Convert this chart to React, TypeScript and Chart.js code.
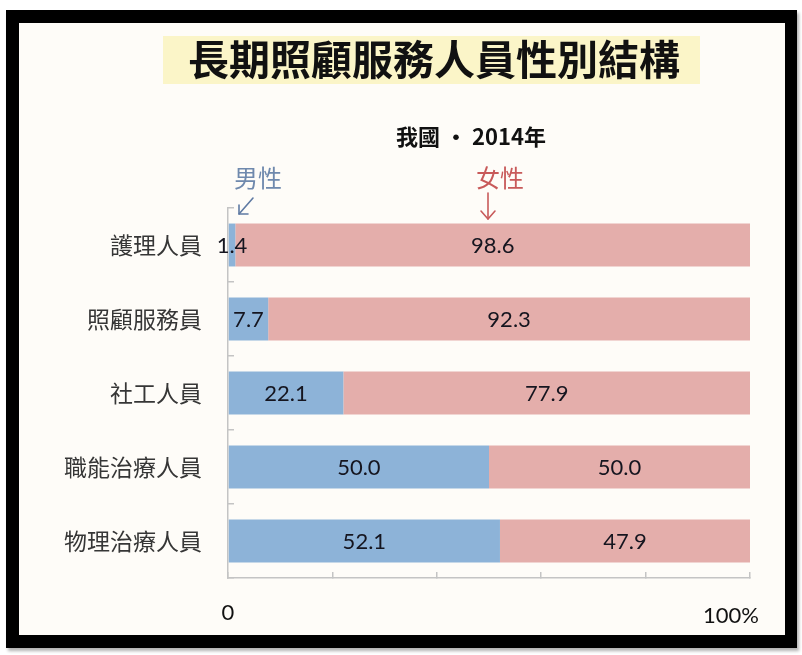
import React, { useEffect, useRef } from 'react';
import { Chart, registerables } from 'chart.js';

Chart.register(...registerables);

const categories = ['護理人員', '照顧服務員', '社工人員', '職能治療人員', '物理治療人員'];
const seriesNames = ['男性', '女性'];
const maleValues = [1.4, 7.7, 22.1, 50.0, 52.1];
const femaleValues = [98.6, 92.3, 77.9, 50.0, 47.9];
const xTickValues = [0, 20, 40, 60, 80, 100];
const xEndLabels = ['0', '100%'];
const titleText = '長期照顧服務人員性別結構';
const subtitleText = '我國 · 2014年';

const valueLabels = {
  id: 'valueLabels',
  afterDatasetsDraw(chart: any) {
    const ctx = chart.ctx;
    ctx.save();
    ctx.font = '22px Lato';
    ctx.fillStyle = '#15151f';
    ctx.textAlign = 'center';
    ctx.textBaseline = 'middle';
    chart.data.datasets.forEach((ds: any, i: number) => {
      chart.getDatasetMeta(i).data.forEach((bar: any, j: number) => {
        const p = bar.getProps(['x', 'base', 'y'], true);
        ctx.fillText(Number(ds.data[j]).toFixed(1), (p.x + p.base) / 2, p.y + 1);
      });
    });
    ctx.restore();
  },
};

const endLabels = {
  id: 'endLabels',
  afterDraw(chart: any) {
    const ctx = chart.ctx;
    const xs = chart.scales.x;
    const y = chart.chartArea.bottom + 35;
    ctx.save();
    ctx.font = '22px Lato';
    ctx.fillStyle = '#111';
    ctx.textBaseline = 'middle';
    ctx.textAlign = 'center';
    ctx.fillText(xEndLabels[0], xs.getPixelForValue(xTickValues[0]), y);
    ctx.textAlign = 'right';
    ctx.fillText(xEndLabels[1], xs.getPixelForValue(xTickValues[xTickValues.length - 1]) + 9, y + 3);
    ctx.restore();
  },
};

function BarChart() {
  const ref = useRef<HTMLCanvasElement>(null);
  useEffect(() => {
    if (!ref.current) return;
    const chart = new Chart(ref.current, {
      type: 'bar',
      data: {
        labels: categories,
        datasets: [
          { label: seriesNames[0], data: maleValues, backgroundColor: '#8db3d8' },
          { label: seriesNames[1], data: femaleValues, backgroundColor: '#e4aeab' },
        ],
      },
      options: {
        indexAxis: 'y',
        responsive: false,
        animation: false,
        devicePixelRatio: 1,
        layout: { padding: { left: 0, right: 52, top: 208, bottom: 77 } },
        plugins: { legend: { display: false }, tooltip: { enabled: false }, title: { display: false } },
        datasets: { bar: { categoryPercentage: 1, barPercentage: 0.58 } },
        scales: {
          x: {
            stacked: true,
            min: 0,
            max: 100,
            afterBuildTicks: (scale: any) => {
              scale.ticks = xTickValues.map((v) => ({ value: v }));
            },
            ticks: { display: false },
            grid: {
              drawOnChartArea: false,
              drawTicks: true,
              tickLength: -6,
              color: '#c4c4c4',
              lineWidth: 1.5,
            },
            border: { display: true, color: '#c4c4c4', width: 1.5 },
            afterFit: (scale: any) => {
              scale.height = 0;
            },
          },
          y: {
            stacked: true,
            ticks: {
              font: { family: '"Noto Sans CJK TC"', size: 23 },
              color: '#363636',
              padding: 32,
            },
            grid: {
              drawOnChartArea: false,
              drawTicks: true,
              tickLength: -6,
              color: '#c4c4c4',
              lineWidth: 1.5,
            },
            border: { display: true, color: '#c4c4c4', width: 1.5 },
            afterFit: (scale: any) => {
              scale.width = 228;
            },
          },
        },
      },
      plugins: [valueLabels, endLabels],
    });
    return () => chart.destroy();
  }, []);
  return (
    <canvas
      ref={ref}
      width={802}
      height={655}
      style={{ position: 'absolute', left: 0, top: 0, width: 802, height: 655 }}
    />
  );
}

export default function App() {
  const cjk = '"Noto Sans CJK TC", sans-serif';
  return (
    <div
      style={{
        position: 'fixed',
        left: 0,
        top: 0,
        width: 802,
        height: 655,
        background: '#ffffff',
        overflow: 'hidden',
      }}
    >
      <div
        style={{
          position: 'absolute',
          left: 6,
          top: 10,
          width: 791,
          height: 638,
          background: '#000',
          boxShadow: '2px 3px 3px rgba(0,0,0,0.3)',
        }}
      />
      <div style={{ position: 'absolute', left: 19, top: 23, width: 766, height: 612, background: '#fefcf8' }} />
      <div
        style={{
          position: 'absolute',
          left: 163,
          top: 36,
          width: 537,
          height: 48,
          background: '#fbf5c8',
        }}
      />
      <BarChart />
      <div
        style={{
          position: 'absolute',
          left: 163,
          top: 33,
          width: 537,
          height: 48,
          paddingLeft: 5,
          boxSizing: 'border-box',
          display: 'flex',
          alignItems: 'center',
          justifyContent: 'center',
          fontFamily: cjk,
          fontWeight: 700,
          fontSize: 41,
          lineHeight: 1,
          color: '#111',
          whiteSpace: 'nowrap',
        }}
      >
        {titleText}
      </div>
      <div
        style={{
          position: 'absolute',
          left: 300,
          top: 122,
          width: 342,
          textAlign: 'center',
          fontFamily: cjk,
          fontWeight: 700,
          fontSize: 22,
          lineHeight: '26px',
          color: '#111',
          whiteSpace: 'nowrap',
        }}
      >
        {subtitleText}
      </div>
      <div
        style={{
          position: 'absolute',
          left: 234,
          top: 165,
          fontFamily: cjk,
          fontSize: 24,
          lineHeight: 1,
          color: '#6f89ad',
          whiteSpace: 'nowrap',
        }}
      >
        {seriesNames[0]}
      </div>
      <div
        style={{
          position: 'absolute',
          left: 476,
          top: 165,
          fontFamily: cjk,
          fontSize: 24,
          lineHeight: 1,
          color: '#c85a5a',
          whiteSpace: 'nowrap',
        }}
      >
        {seriesNames[1]}
      </div>
      <svg
        width={802}
        height={655}
        style={{ position: 'absolute', left: 0, top: 0, pointerEvents: 'none' }}
      >
        <g stroke="#5f7aa3" strokeWidth={1.6} fill="none" strokeLinecap="round" strokeLinejoin="round">
          <line x1={253} y1={198} x2={239} y2={214} />
          <polyline points="239,205 239,214 248,214" />
        </g>
        <g stroke="#c85a5a" strokeWidth={1.6} fill="none" strokeLinecap="round" strokeLinejoin="round">
          <line x1={488} y1={193} x2={488} y2={219} />
          <polyline points="481,211 488,219 495,211" />
        </g>
      </svg>
    </div>
  );
}
